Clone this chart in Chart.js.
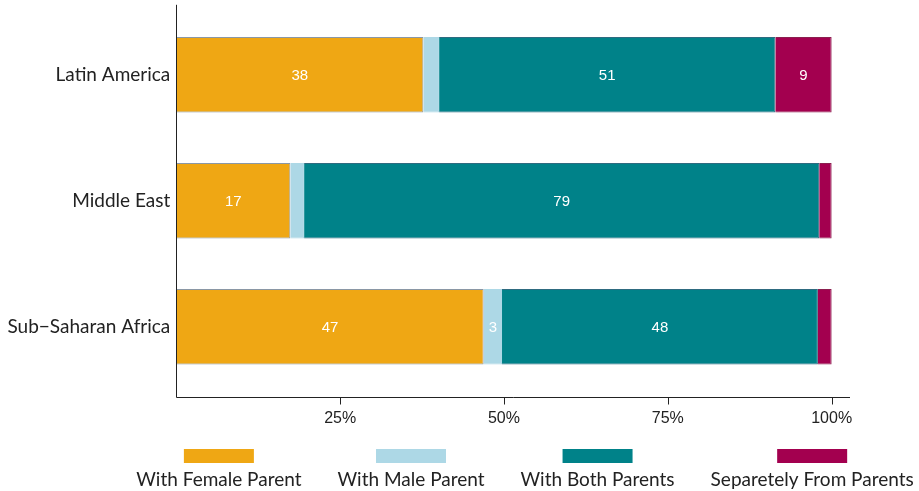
<!DOCTYPE html>
<html>
<head>
<meta charset="utf-8">
<script src="https://cdn.jsdelivr.net/npm/chart.js@4/dist/chart.umd.min.js"></script>
<style>
  html, body { margin: 0; padding: 0; background: #fff; }
</style>
</head>
<body>
<canvas id="chart" width="919" height="491"></canvas>
<script>
// data (percent of children)
const regions = ["Latin America", "Middle East", "Sub\u2212Saharan Africa"];
const seriesNames = ["With Female Parent", "With Male Parent", "With Both Parents", "Separetely From Parents"];
const femaleParent = [37.7, 17.4, 46.9];
const maleParent = [2.4, 2.1, 2.8];
const bothParents = [51.3, 78.6, 48.2];
const separately = [8.6, 1.9, 2.1];
const xTicks = [25, 50, 75, 100];

const colors = ["#EFA714", "#ADD8E6", "#008289", "#A3004F"];
const borders = ["#8a97a5", "#ADD8E6", "#2e6b80", "#8b1f4f"];
const seriesData = [femaleParent, maleParent, bothParents, separately];

const INK = "#222222";
const LABEL_FONT = "Lato, 'Noto Sans', sans-serif";

// axis lines drawn by hand: they overshoot the plot area like the original
const axisPlugin = {
  id: "axisFrame",
  afterDatasetsDraw: (chart) => {
    const { ctx, chartArea, scales: { x } } = chart;
    const left = Math.round(chartArea.left) + 0.5;
    const axisY = Math.round(chartArea.bottom + 7) + 0.5;
    ctx.save();
    ctx.strokeStyle = INK;
    ctx.lineWidth = 1;
    ctx.beginPath();
    ctx.moveTo(left, chartArea.top - 7);
    ctx.lineTo(left, axisY);
    ctx.moveTo(left, axisY);
    ctx.lineTo(chartArea.right, axisY);
    xTicks.forEach((v) => {
      const px = Math.round(x.getPixelForValue(v)) + 0.5;
      ctx.moveTo(px, axisY);
      ctx.lineTo(px, axisY + 7);
    });
    ctx.stroke();
    ctx.restore();
  },
};

// numbers inside the segments (small ones left out)
const valueLabelPlugin = {
  id: "valueLabels",
  afterDatasetsDraw: (chart) => {
    const { ctx } = chart;
    ctx.save();
    ctx.font = "15px 'Liberation Sans', Arial, sans-serif";
    ctx.fillStyle = "#ffffff";
    ctx.textAlign = "center";
    ctx.textBaseline = "middle";
    chart.data.datasets.forEach((ds, i) => {
      const meta = chart.getDatasetMeta(i);
      meta.data.forEach((bar, j) => {
        const v = Math.round(ds.data[j]);
        if (v < 3) return;
        ctx.fillText(String(v), (bar.x + bar.base) / 2, bar.y + 1);
      });
    });
    ctx.restore();
  },
};

// legend: box above the text, items in one row
const legendPlugin = {
  id: "legendBelow",
  afterDraw: (chart) => {
    const { ctx } = chart;
    const boxW = 70, boxH = 14, gap = 36;
    const center = 525;
    ctx.save();
    ctx.font = "19px " + LABEL_FONT;
    const widths = seriesNames.map((s) => Math.max(ctx.measureText(s).width, boxW));
    const total = widths.reduce((a, b) => a + b, 0) + gap * (widths.length - 1);
    let xPos = center - total / 2;
    seriesNames.forEach((name, i) => {
      const cx = xPos + widths[i] / 2;
      ctx.fillStyle = colors[i];
      ctx.fillRect(cx - boxW / 2, 449, boxW, boxH);
      ctx.fillStyle = INK;
      ctx.textAlign = "center";
      ctx.textBaseline = "middle";
      ctx.fillText(name, cx, 480);
      xPos += widths[i] + gap;
    });
    ctx.restore();
  },
};

const datasets = seriesNames.map((name, i) => ({
  label: name,
  data: seriesData[i],
  backgroundColor: colors[i],
  borderColor: borders[i],
  borderWidth: 1,
  barPercentage: 0.6,
  categoryPercentage: 1,
}));

new Chart(document.getElementById("chart").getContext("2d"), {
  type: "bar",
  data: { labels: regions, datasets: datasets },
  plugins: [axisPlugin, valueLabelPlugin, legendPlugin],
  options: {
    indexAxis: "y",
    responsive: false,
    animation: false,
    layout: { padding: { top: 11.8, right: 69, left: 0, bottom: 0 } },
    plugins: {
      legend: { display: false },
      tooltip: { enabled: false },
    },
    scales: {
      x: {
        stacked: true,
        min: 0,
        max: 102.8,
        afterBuildTicks: (scale) => {
          scale.ticks = xTicks.map((v) => ({ value: v }));
        },
        afterFit: (scale) => {
          scale.height = 491 - 389.8;
          scale.paddingLeft = 0;
          scale.paddingRight = 0;
        },
        grid: { display: false, drawTicks: false },
        border: { display: false },
        ticks: {
          padding: 19,
          color: INK,
          font: { family: "'Liberation Sans', Arial, sans-serif", size: 16 },
          callback: (v) => v + "%",
        },
      },
      y: {
        stacked: true,
        afterFit: (scale) => {
          scale.width = 176.3;
          scale.paddingTop = 0;
          scale.paddingBottom = 0;
        },
        grid: { display: false, drawTicks: false },
        border: { display: false },
        ticks: {
          padding: 6,
          color: INK,
          font: { family: LABEL_FONT, size: 19 },
        },
      },
    },
  },
});
</script>
</body>
</html>
